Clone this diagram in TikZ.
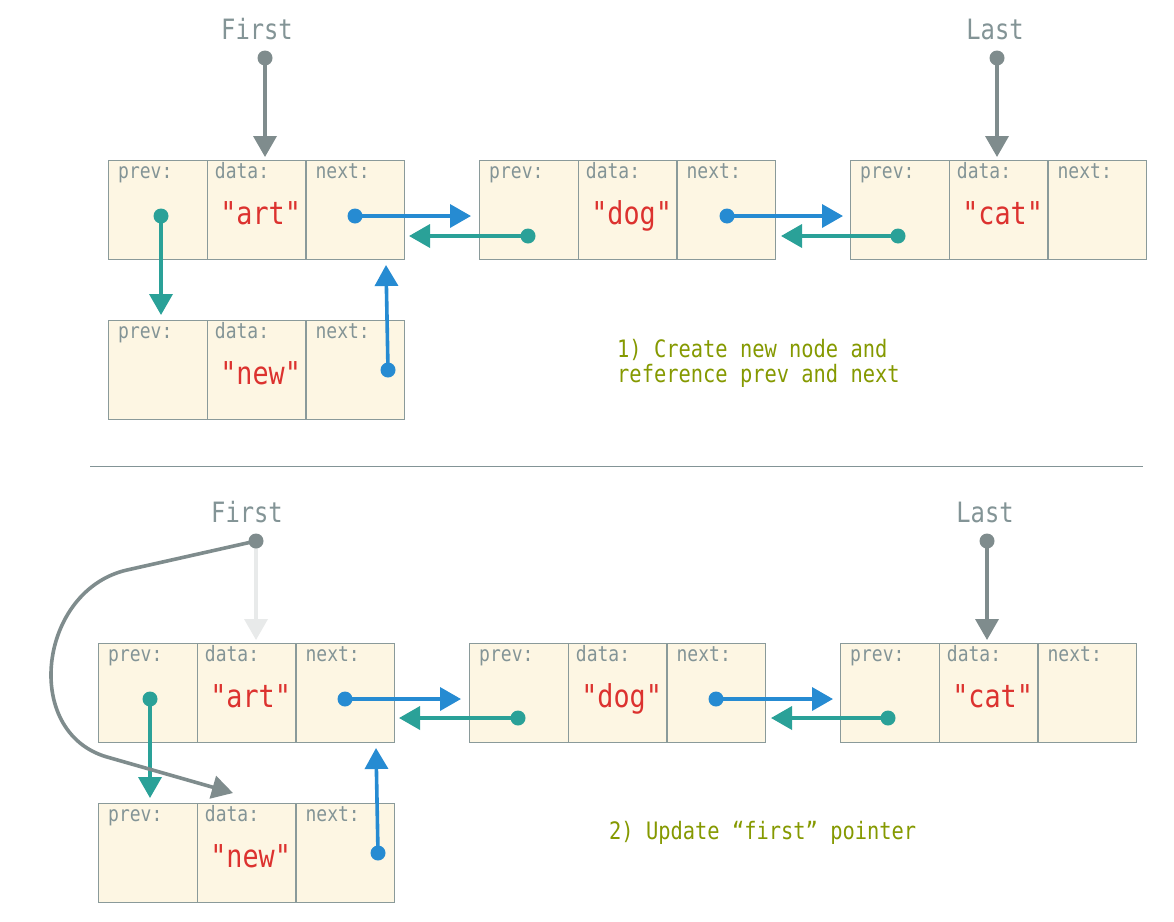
\documentclass[tikz,border=0pt]{standalone}
\usepackage{fontspec}
\setmonofont[FakeStretch=0.85]{DejaVu Sans Mono}
\usetikzlibrary{arrows.meta,calc}
\definecolor{cream}{HTML}{FDF6E3}
\definecolor{boxline}{HTML}{8A9A9A}
\definecolor{lblgrey}{HTML}{839496}
\definecolor{strred}{HTML}{DC322F}
\definecolor{ptrblue}{HTML}{268BD2}
\definecolor{ptrteal}{HTML}{2AA198}
\definecolor{olive}{HTML}{859900}
\definecolor{ptrgrey}{HTML}{7F8C8D}
\definecolor{fadegrey}{HTML}{E8EAEA}
\tikzset{
  cell/.style={draw=boxline, fill=cream, line width=1.2pt, minimum width=98.7pt, minimum height=99pt, inner sep=0pt, anchor=north west},
  lbl/.style={text=lblgrey, font=\ttfamily\fontsize{21.2}{24}\selectfont, anchor=base west, inner sep=0pt},
  strtxt/.style={text=strred, font=\ttfamily\fontsize{31.5}{34}\selectfont, anchor=base, inner sep=0pt},
  endlbl/.style={text=lblgrey, font=\ttfamily\fontsize{28}{32}\selectfont, anchor=base, inner sep=0pt},
  note/.style={text=olive, font=\ttfamily\fontsize{24}{25}\selectfont, align=left, anchor=west, inner sep=0pt},
  ptr/.style={line width=3.6pt, -{Triangle[length=21pt,width=23pt]}},
  dotstart/.style={fill, circle, inner sep=0pt, minimum size=15pt},
}
\newcommand\listnode[5]{%
  \node[cell] (#1p) at (#2,#3) {};
  \node[cell] (#1d) at (#2+98.7,#3) {};
  \node[cell] (#1n) at (#2+197.4,#3) {};
  \node[lbl] (#1pl) at ([xshift=10pt,yshift=-18pt]#1p.north west) {prev:};
  \node[lbl] (#1dl) at ([xshift=8pt,yshift=-18pt]#1d.north west) {data:};
  \node[lbl] (#1nl) at ([xshift=10pt,yshift=-18pt]#1n.north west) {next:};
  \node[strtxt] (#1s) at ([xshift=4pt]#1d.north |- 0,#3+64) {#4};
}
\begin{document}
\begin{tikzpicture}[x=1pt,y=-1pt]
\useasboundingbox (0,0) rectangle (1174,921);
\fill[white] (0,0) rectangle (1174,921);

% ---------- top half ----------
\listnode{a}{108}{160}{"art"}{}
\listnode{d}{479}{160}{"dog"}{}
\listnode{c}{850}{160}{"cat"}{}
\listnode{n}{108}{320}{"new"}{}

\node[endlbl] (first1) at (257,39) {First};
\node[endlbl] (last1) at (995,39) {Last};

\node[dotstart, ptrgrey] (f1dot) at (265,58) {};
\coordinate (f1tip) at (265,157);
\node[dotstart, ptrgrey] (l1dot) at (997,58) {};
\coordinate (l1tip) at (997,157);
\draw[ptr, ptrgrey] (f1dot.center) -- (f1tip);
\draw[ptr, ptrgrey] (l1dot.center) -- (l1tip);

\node[dotstart, ptrblue] (anext1) at (355,216) {};
\coordinate (anext1tip) at (471,216);
\draw[ptr, ptrblue] (anext1.center) -- (anext1tip);
\node[dotstart, ptrteal] (dprev1) at (528,236) {};
\coordinate (dprev1tip) at (409,236);
\draw[ptr, ptrteal] (dprev1.center) -- (dprev1tip);
\node[dotstart, ptrblue] (dnext1) at (727,216) {};
\coordinate (dnext1tip) at (843,216);
\draw[ptr, ptrblue] (dnext1.center) -- (dnext1tip);
\node[dotstart, ptrteal] (cprev1) at (898,236) {};
\coordinate (cprev1tip) at (781,236);
\draw[ptr, ptrteal] (cprev1.center) -- (cprev1tip);

\node[dotstart, ptrteal] (aprev1) at (161,216) {};
\coordinate (aprev1tip) at (161,315);
\draw[ptr, ptrteal] (aprev1.center) -- (aprev1tip);
\node[dotstart, ptrblue] (nnext1) at (388,370) {};
\coordinate (nnext1tip) at (386,265);
\draw[ptr, ptrblue] (nnext1.center) -- (nnext1tip);

\node[note] (note1) at (617,363) {1) Create new node and\\reference prev and next};

% separator
\coordinate (sepL) at (90,466);
\coordinate (sepR) at (1143,466);
\draw[lblgrey, line width=1pt] (sepL) -- (sepR);

% ---------- bottom half ----------
\listnode{A}{98}{643}{"art"}{}
\listnode{D}{469}{643}{"dog"}{}
\listnode{C}{840}{643}{"cat"}{}
\listnode{N}{98}{803}{"new"}{}

\node[endlbl] (first2) at (247,522) {First};
\node[endlbl] (last2) at (985,522) {Last};

\coordinate (f2tipold) at (256,640);
\coordinate (f2start) at (256,541);
\draw[ptr, fadegrey] (f2start) -- (f2tipold);
\node[dotstart, ptrgrey] (l2dot) at (987,541) {};
\coordinate (l2tip) at (987,640);
\draw[ptr, ptrgrey] (l2dot.center) -- (l2tip);

\node[dotstart, ptrblue] (Anext2) at (345,699) {};
\coordinate (Anext2tip) at (461,699);
\draw[ptr, ptrblue] (Anext2.center) -- (Anext2tip);
\node[dotstart, ptrteal] (Dprev2) at (518,718) {};
\coordinate (Dprev2tip) at (399,718);
\draw[ptr, ptrteal] (Dprev2.center) -- (Dprev2tip);
\node[dotstart, ptrblue] (Dnext2) at (716,699) {};
\coordinate (Dnext2tip) at (833,699);
\draw[ptr, ptrblue] (Dnext2.center) -- (Dnext2tip);
\node[dotstart, ptrteal] (Cprev2) at (888,718) {};
\coordinate (Cprev2tip) at (771,718);
\draw[ptr, ptrteal] (Cprev2.center) -- (Cprev2tip);

\node[dotstart, ptrteal] (Aprev2) at (150,699) {};
\coordinate (Aprev2tip) at (150,798);
\draw[ptr, ptrteal] (Aprev2.center) -- (Aprev2tip);
\node[dotstart, ptrblue] (Nnext2) at (378,853) {};
\coordinate (Nnext2tip) at (376,748);
\draw[ptr, ptrblue] (Nnext2.center) -- (Nnext2tip);

% new first pointer
\node[dotstart, ptrgrey] (f2dot) at (256,541) {};
\coordinate (f2tip) at (233,793);
\draw[ptr, ptrgrey] (f2dot.center) -- (127,570) .. controls (39,590) and (21,732) .. (107,757) -- (f2tip);

\node[note] (note2) at (609,833) {2) Update “first” pointer};
\end{tikzpicture}
\end{document}
